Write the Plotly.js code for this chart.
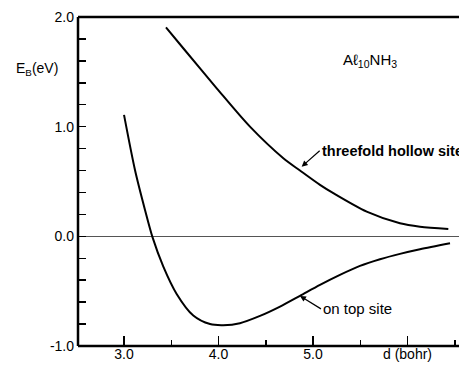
<!DOCTYPE html>
<html>
<head>
<meta charset="utf-8">
<script src="https://cdn.plot.ly/plotly-3.0.1.min.js"></script>
<style>html,body{margin:0;padding:0;background:#fff;}#chart{width:459px;height:366px;}</style>
</head>
<body>
<div id="chart"></div>
<script>
// Data
const hollowX = [3.444, 3.627, 3.981, 4.333, 4.686, 4.862, 5.074, 5.215, 5.568, 5.92, 6.132, 6.432];
const hollowY = [1.906, 1.715, 1.35, 1.0, 0.712, 0.6, 0.469, 0.393, 0.225, 0.119, 0.088, 0.067];
const topX = [3.0, 3.116, 3.222, 3.303, 3.416, 3.557, 3.733, 3.91, 4.05, 4.227, 4.439, 4.651, 4.862, 5.074, 5.285, 5.497, 5.709, 5.92, 6.132, 6.45];
const topY = [1.107, 0.605, 0.241, -0.012, -0.276, -0.525, -0.722, -0.8, -0.81, -0.792, -0.726, -0.641, -0.543, -0.443, -0.352, -0.27, -0.209, -0.16, -0.118, -0.063];
const xTickVals = [3, 4, 5, 6];
const xTickText = ["3.0", "4.0", "5.0", "d (bohr)"];
const yTickVals = [-1, 0, 1, 2];
const yTickText = ["-1.0", "0.0", "1.0", "2.0"];

const fam = "Liberation Sans, Arial, sans-serif";
const font = {family: fam, size: 14, color: "#000"};

const traces = [
  {x: hollowX, y: hollowY, mode: "lines", line: {color: "#000", width: 2, shape: "spline", smoothing: 0.8}, hoverinfo: "skip"},
  {x: topX, y: topY, mode: "lines", line: {color: "#000", width: 2, shape: "spline", smoothing: 0.8}, hoverinfo: "skip"}
];

const frame = {color: "#000", width: 2.5};
const layout = {
  width: 459, height: 366,
  margin: {l: 78, r: 0, t: 17, b: 20},
  paper_bgcolor: "#fff", plot_bgcolor: "#fff",
  showlegend: false,
  font: font,
  xaxis: {
    range: [2.513, 6.545], showgrid: false, zeroline: false, showline: false,
    ticks: "inside", ticklen: 10, tickwidth: 1.5, tickcolor: "#000",
    tickmode: "array", tickvals: xTickVals, ticktext: xTickText,
    minor: {dtick: 0.5, tick0: 0, ticks: "inside", ticklen: 6, tickwidth: 1.5, tickcolor: "#000"},
    tickfont: font, ticklabelstandoff: -2
  },
  yaxis: {
    range: [-1, 2], showgrid: false,
    zeroline: true, zerolinecolor: "#555", zerolinewidth: 1, showline: false,
    ticks: "inside", ticklen: 8, tickwidth: 1.5, tickcolor: "#000",
    tickmode: "array", tickvals: yTickVals, ticktext: yTickText,
    minor: {dtick: 0.2, tick0: 0, ticks: "inside", ticklen: 8, tickwidth: 1.5, tickcolor: "#000"},
    tickfont: font, ticklabelstandoff: 3
  },
  shapes: [
    {type: "line", xref: "paper", yref: "paper", x0: 0, x1: 0, y0: 0, y1: 1, line: frame},
    {type: "line", xref: "paper", yref: "paper", x0: 0, x1: 1, y0: 1, y1: 1, line: frame},
    {type: "line", xref: "paper", yref: "paper", x0: 0, x1: 1, y0: 0, y1: 0, line: frame}
  ],
  annotations: [
    {xref: "paper", yref: "y", x: -0.108, y: 1.53, text: "E<sub>B</sub>(eV)", showarrow: false, font: font, xanchor: "center", yanchor: "middle"},
    {xref: "x", yref: "y", x: 5.6, y: 1.6, text: "Aℓ<sub>10</sub>NH<sub>3</sub>", showarrow: false, font: {family: fam, size: 15, color: "#000"}, xanchor: "center", yanchor: "middle"},
    {xref: "x", yref: "y", x: 4.88, y: 0.635, text: "<b>threefold hollow site</b>", showarrow: true, ax: 18, ay: -16, xanchor: "left", yanchor: "middle",
      arrowhead: 2, arrowsize: 1, arrowwidth: 1.2, arrowcolor: "#000", standoff: 0, font: {family: fam, size: 14.5, color: "#000"}},
    {xref: "x", yref: "y", x: 4.862, y: -0.543, text: "on top site", showarrow: true, ax: 21, ay: 13, xanchor: "left", yanchor: "middle",
      arrowhead: 2, arrowsize: 1, arrowwidth: 1.2, arrowcolor: "#000", standoff: 0, font: {family: fam, size: 15, color: "#000"}}
  ]
};

Plotly.newPlot("chart", traces, layout, {displayModeBar: false, staticPlot: true});
</script>
</body>
</html>
